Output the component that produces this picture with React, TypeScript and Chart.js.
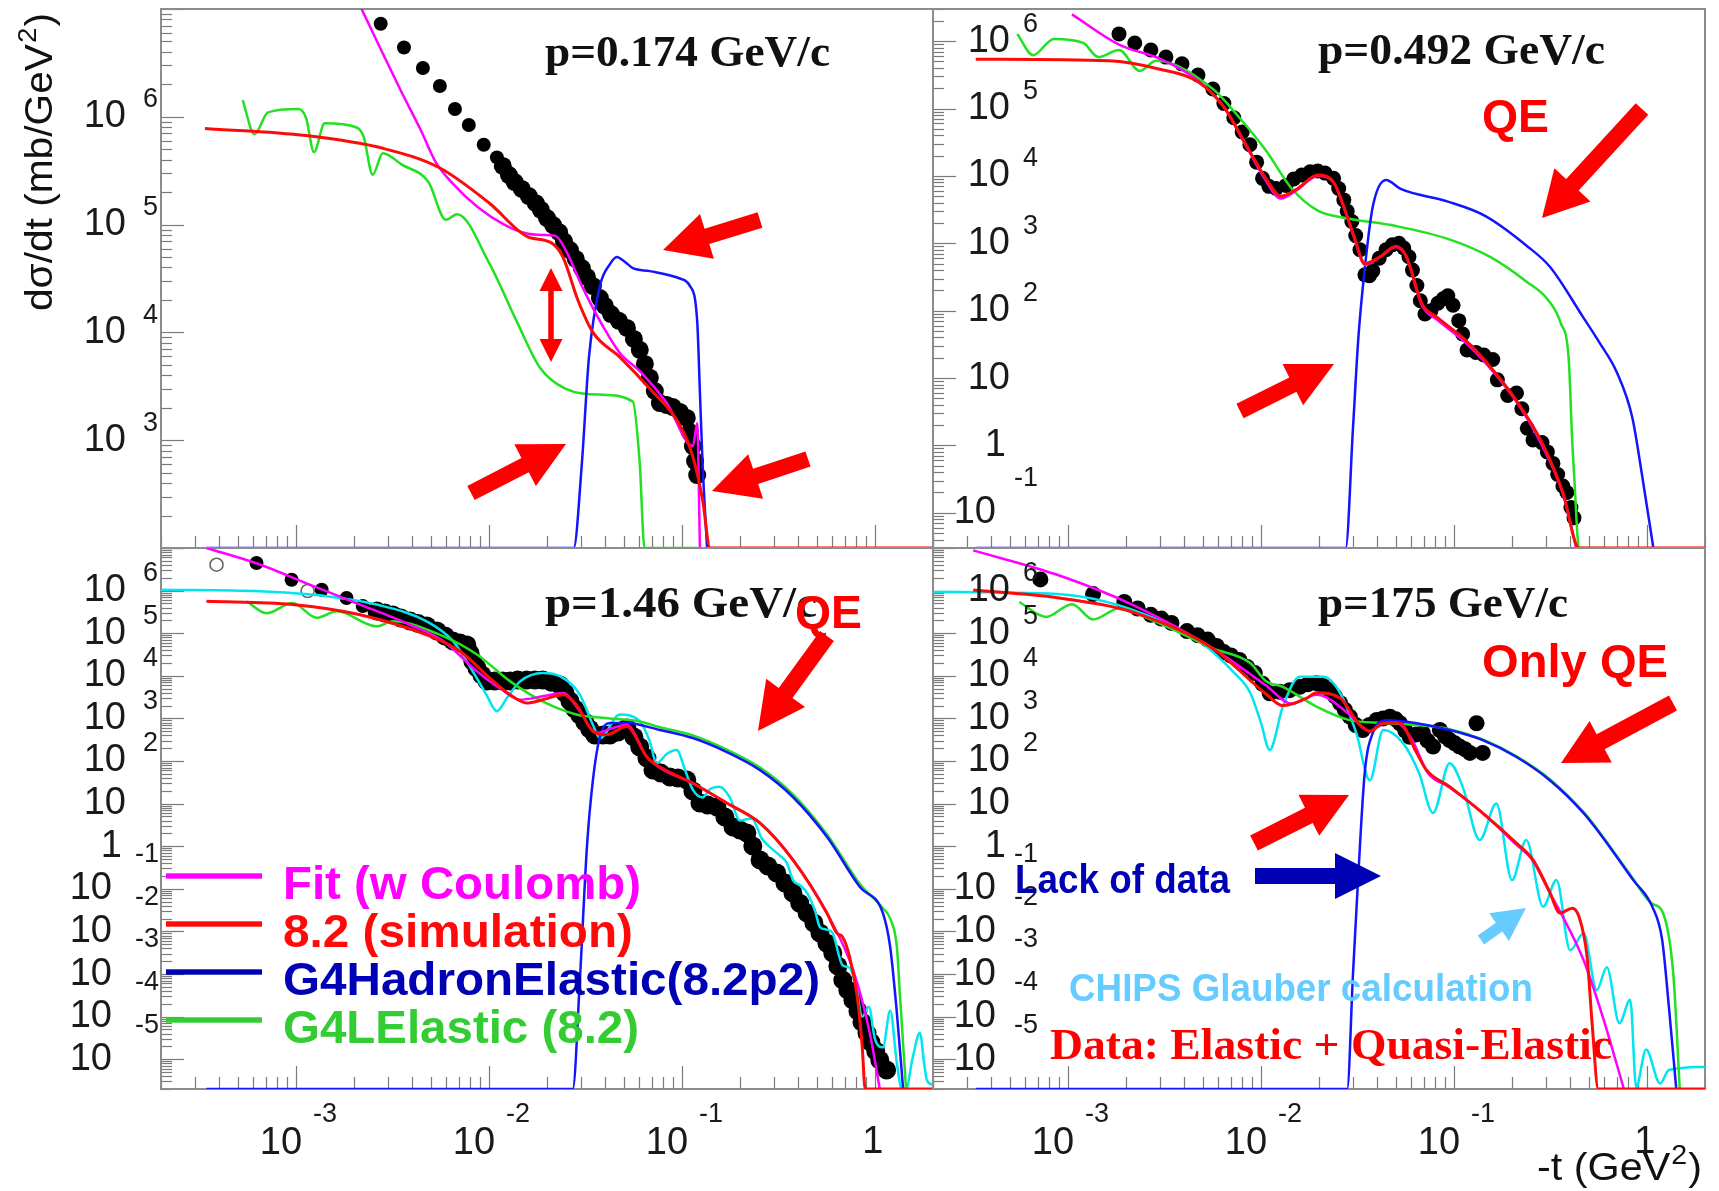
import { useEffect, useRef } from "react";
import { Chart, registerables } from "chart.js";

Chart.register(...registerables);

type Pt = [number, number];

const W = 1719;
const H = 1191;

// ---------------- axes ----------------
const X_RANGE: Pt = [2e-4, 2];
const X_LABEL_EXP = [-3, -2, -1, 0];
const TL_Y_RANGE: Pt = [1e2, 1e7];
const TR_Y_RANGE: Pt = [0.03, 3e6];
const BL_Y_RANGE: Pt = [2e-6, 1e7];
const BR_Y_RANGE: Pt = [2e-6, 1e7];
const TL_Y_LABEL_EXP = [3, 4, 5, 6];
const TR_Y_LABEL_EXP = [-1, 0, 1, 2, 3, 4, 5, 6];
const BL_Y_LABEL_EXP = [-5, -4, -3, -2, -1, 0, 1, 2, 3, 4, 5, 6];
const BR_Y_LABEL_EXP = [-5, -4, -3, -2, -1, 0, 1, 2, 3, 4, 5, 6];

// ---------------- texts ----------------
const TITLES = ["p=0.174 GeV/c", "p=0.492 GeV/c", "p=1.46 GeV/c", "p=175 GeV/c"];
const LEGEND_LABELS = ["Fit (w Coulomb)", "8.2 (simulation)", "G4HadronElastic(8.2p2)", "G4LElastic (8.2)"];
const NOTE_QE = "QE";
const NOTE_ONLY_QE = "Only QE";
const NOTE_LACK = "Lack of data";
const NOTE_CHIPS = "CHIPS Glauber calculation";
const NOTE_DATA = "Data: Elastic + Quasi-Elastic";
const Y_TITLE_MAIN = "d\u03c3/dt (mb/GeV";
const X_TITLE_MAIN = "-t (GeV";

// ---------------- p = 0.174 GeV/c ----------------
const TL_DATA: Pt[] = [
  [2.75e-3, 7.3e6], [3.63e-3, 4.4e6], [4.55e-3, 2.84e6], [5.57e-3, 1.93e6], [6.67e-3, 1.18e6],
  [7.87e-3, 8.4e5], [9.4e-3, 5.5e5], [1.1e-2, 4.2e5],
];
const TL_BAND: Pt[] = [
  [1.18e-2, 3.5e5], [1.27e-2, 2.88e5], [1.36e-2, 2.48e5], [1.48e-2, 2.14e5], [1.61e-2, 1.84e5],
  [1.75e-2, 1.58e5], [1.86e-2, 1.37e5], [2.0e-2, 1.15e5], [2.15e-2, 9.9e4], [2.31e-2, 8.5e4],
  [2.45e-2, 7.0e4], [2.63e-2, 5.8e4], [2.82e-2, 4.8e4], [3.03e-2, 3.95e4], [3.22e-2, 3.27e4],
  [3.46e-2, 2.69e4], [3.76e-2, 2.08e4], [3.99e-2, 1.76e4], [4.29e-2, 1.48e4], [4.72e-2, 1.28e4],
  [5.19e-2, 1.1e4], [5.64e-2, 8.7e3], [6.05e-2, 6.9e3], [6.43e-2, 5.1e3], [6.82e-2, 3.8e3],
  [7.24e-2, 2.86e3], [7.69e-2, 2.21e3], [8.36e-2, 2.12e3], [8.98e-2, 2.03e3], [9.77e-2, 1.83e3],
  [0.106, 1.61e3], [0.11, 1.19e3], [0.114, 883], [0.117, 641], [0.12, 475],
];
const TL_FIT: Pt[] = [
  [2.15e-3, 1.07e7], [2.82e-3, 3.86e6], [3.54e-3, 1.67e6], [4.44e-3, 7.5e5], [5.3e-3, 3.8e5],
  [6.5e-3, 2.4e5], [8.77e-3, 1.45e5], [1.2e-2, 1.0e5], [1.52e-2, 8.4e4], [1.9e-2, 8.0e4],
  [2.2e-2, 7.9e4], [2.5e-2, 5.8e4], [3.03e-2, 2.7e4], [3.76e-2, 1.28e4], [4.77e-2, 6.45e3],
  [6.05e-2, 4.37e3], [8.36e-2, 2.2e3], [0.114, 884], [0.12, 1.44e3], [0.124, 100],
];
const TL_SIM: Pt[] = [
  [3.38e-4, 7.8e5], [1.13e-3, 6.7e5], [2.82e-3, 5.1e5], [5.57e-3, 3.35e5], [1.01e-2, 1.57e5],
  [1.59e-2, 7.7e4], [2.1e-2, 6.8e4], [2.42e-2, 5.0e4], [2.89e-2, 2.0e4], [3.46e-2, 1.0e4],
  [4.77e-2, 5.9e3], [6.82e-2, 3.0e3], [9.77e-2, 1.38e3], [0.114, 700], [0.128, 280],
  [0.14, 100], [2, 100],
];
const TL_G4H: Pt[] = [
  [3.44e-4, 100], [2.3e-2, 100], [2.75e-2, 100], [3.03e-2, 600], [3.3e-2, 5.9e3], [3.76e-2, 2.7e4],
  [4.24e-2, 4.3e4], [4.6e-2, 5.0e4], [5.0e-2, 4.6e4], [5.57e-2, 3.95e4], [6.82e-2, 3.7e4],
  [9.77e-2, 3.16e4], [0.11, 2.7e4], [0.12, 1.28e4], [0.124, 2.75e3], [0.128, 600], [0.135, 100],
];
const TL_G4L: Pt[] = [
  [5.3e-4, 1.43e6], [6.1e-4, 6.9e5], [7.17e-4, 1.1e6], [1.03e-3, 1.18e6], [1.13e-3, 9.7e5],
  [1.24e-3, 4.7e5], [1.41e-3, 8.7e5], [2.05e-3, 8.0e5], [2.24e-3, 6.6e5], [2.5e-3, 2.9e5],
  [2.82e-3, 4.6e5], [3.54e-3, 3.6e5], [4.86e-3, 2.48e5], [5.98e-3, 1.11e5], [6.84e-3, 1.25e5],
  [1.01e-2, 4.3e4], [1.39e-2, 1.28e4], [1.84e-2, 4.7e3], [2.5e-2, 3.0e3], [3.76e-2, 2.65e3],
  [5.57e-2, 2.28e3], [6.05e-2, 600], [6.4e-2, 100], [0.12, 100],
];

// ---------------- p = 0.492 GeV/c ----------------
const TR_DATA: Pt[] = [
  [1.84e-3, 1.28e6], [2.22e-3, 9.4e5], [2.69e-3, 7.4e5], [3.22e-3, 5.8e5], [3.9e-3, 4.6e5],
  [4.72e-3, 3.15e5], [5.64e-3, 1.95e5], [6.43e-3, 1.19e5], [7.24e-3, 7.3e4], [8.0e-3, 4.5e4],
  [8.77e-3, 2.9e4], [9.5e-3, 1.6e4], [1.02e-2, 9.2e3], [1.1e-2, 7.0e3], [1.2e-2, 6.5e3],
  [1.35e-2, 7.2e3], [1.48e-2, 9.0e3], [1.63e-2, 1.03e4], [1.8e-2, 1.15e4], [1.97e-2, 1.18e4],
  [2.15e-2, 1.1e4], [2.38e-2, 9.2e3], [2.53e-2, 6.5e3], [2.69e-2, 4.4e3], [2.8e-2, 3.0e3],
  [2.96e-2, 2.1e3], [3.1e-2, 1.3e3], [3.26e-2, 800], [3.46e-2, 340], [3.65e-2, 330], [3.8e-2, 390],
  [4.1e-2, 600], [4.45e-2, 800], [4.8e-2, 950], [5.19e-2, 1.0e3], [5.5e-2, 850], [5.85e-2, 630],
  [6.1e-2, 400], [6.43e-2, 236], [6.7e-2, 140], [7.08e-2, 89], [7.6e-2, 100], [8.26e-2, 129],
  [8.8e-2, 150], [9.3e-2, 166], [9.9e-2, 120], [0.106, 71], [0.111, 45], [0.117, 26], [0.13, 24],
  [0.143, 22], [0.159, 18.8], [0.168, 9.4], [0.19, 5.5], [0.211, 6], [0.225, 3.5], [0.24, 1.8],
  [0.257, 1.2], [0.286, 1.1], [0.305, 0.8], [0.326, 0.54], [0.345, 0.37], [0.367, 0.25],
  [0.385, 0.2], [0.404, 0.12], [0.419, 0.084],
];
const TR_FIT: Pt[] = [
  [1.05e-3, 2.5e6], [1.84e-3, 8.9e5], [3.03e-3, 5.4e5], [4.72e-3, 2.6e5], [6.43e-3, 1.05e5],
  [8.26e-3, 3.0e4], [1.06e-2, 8.5e3], [1.27e-2, 4.6e3], [1.54e-2, 6.2e3], [1.97e-2, 1.0e4],
  [2.38e-2, 8.0e3], [2.69e-2, 3.4e3], [3.03e-2, 1.25e3], [3.46e-2, 480], [4.14e-2, 620],
  [5.0e-2, 880], [5.68e-2, 620], [6.82e-2, 120], [8.26e-2, 72], [0.113, 35], [0.145, 17],
  [0.21, 4.5], [0.286, 1.0], [0.367, 0.19], [0.43, 0.03],
];
const TR_SIM: Pt[] = [
  [3.33e-4, 5.4e5], [1.63e-3, 5.1e5], [3.03e-3, 3.8e5], [4.72e-3, 2.5e5], [6.43e-3, 1.05e5],
  [8.26e-3, 3.1e4], [1.06e-2, 9.2e3], [1.27e-2, 5.0e3], [1.54e-2, 6.4e3], [1.97e-2, 1.03e4],
  [2.38e-2, 8.1e3], [2.69e-2, 3.5e3], [3.03e-2, 1.3e3], [3.46e-2, 500], [4.14e-2, 630],
  [5.0e-2, 900], [5.68e-2, 630], [6.82e-2, 128], [8.26e-2, 78], [0.113, 38], [0.145, 18],
  [0.21, 4.7], [0.286, 1.1], [0.367, 0.2], [0.445, 0.03], [2, 0.03],
];
const TR_G4H: Pt[] = [
  [3.33e-4, 0.03], [2.22e-2, 0.03], [2.75e-2, 0.03], [3.0e-2, 1.8], [3.2e-2, 40], [3.46e-2, 445],
  [3.8e-2, 3.5e3], [4.45e-2, 8.7e3], [5.3e-2, 6.4e3], [9.3e-2, 4.15e3], [0.145, 2.55e3],
  [0.239, 912], [0.315, 445], [0.466, 81], [0.57, 33], [0.7, 12], [0.84, 2.6], [0.94, 0.39],
  [1.08, 0.03],
];
const TR_G4L: Pt[] = [
  [5.47e-4, 1.28e6], [6.6e-4, 6.2e5], [8.46e-4, 1.08e6], [1.2e-3, 9.4e5], [1.44e-3, 5.8e5],
  [1.84e-3, 7.4e5], [2.36e-3, 3.6e5], [2.86e-3, 5.1e5], [5.64e-3, 1.95e5], [7.74e-3, 7.3e4],
  [1.06e-2, 2.4e4], [1.45e-2, 6.4e3], [1.97e-2, 3.06e3], [2.69e-2, 2.4e3], [5.0e-2, 1.8e3],
  [9.3e-2, 1.16e3], [0.154, 627], [0.239, 267], [0.307, 145], [0.358, 65], [0.394, 18],
  [0.41, 1.2], [0.419, 0.4], [0.445, 0.03], [0.6, 0.03],
];

// ---------------- p = 1.46 GeV/c ----------------
const BL_DATA: Pt[] = [
  [6.25e-4, 4.45e6], [9.5e-4, 1.8e6], [1.36e-3, 1.05e6], [1.83e-3, 6.7e5], [2.22e-3, 4.35e5],
];
const BL_BAND: Pt[] = [
  [2.63e-3, 3.3e5], [2.89e-3, 2.98e5], [3.18e-3, 2.67e5], [3.5e-3, 2.27e5], [3.9e-3, 1.93e5],
  [4.29e-3, 1.69e5], [4.77e-3, 1.48e5], [5.38e-3, 1.13e5], [5.92e-3, 8.6e4], [6.5e-3, 6.6e4],
  [7.08e-3, 5.9e4], [7.69e-3, 5.3e4], [7.98e-3, 3.4e4], [8.26e-3, 2.2e4], [8.67e-3, 1.52e4],
  [9.2e-3, 1.04e4], [9.77e-3, 7.55e3], [1.07e-2, 7.55e3], [1.18e-2, 7.55e3], [1.29e-2, 7.55e3],
  [1.41e-2, 7.96e3], [1.57e-2, 7.96e3], [1.73e-2, 7.96e3], [1.9e-2, 7.96e3], [2.1e-2, 7.1e3],
  [2.33e-2, 6.1e3], [2.48e-2, 3.95e3], [2.63e-2, 2.56e3], [2.79e-2, 1.66e3], [2.96e-2, 1.2e3],
  [3.14e-2, 822], [3.33e-2, 564], [3.54e-2, 407], [3.9e-2, 407], [4.24e-2, 407], [4.66e-2, 480],
  [5.19e-2, 596], [5.64e-2, 366], [6.05e-2, 213], [6.59e-2, 117], [7.08e-2, 61.5], [7.78e-2, 52],
  [8.67e-2, 42], [9.53e-2, 40], [0.106, 35.8], [0.114, 19.8], [0.124, 10.3], [0.136, 9.3],
  [0.152, 8.3], [0.167, 4.84], [0.184, 2.82], [0.2, 2.4], [0.217, 2.04], [0.233, 1.01],
  [0.254, 0.474], [0.279, 0.343], [0.31, 0.235], [0.342, 0.137], [0.376, 0.08], [0.408, 0.046],
  [0.445, 0.027], [0.483, 0.0157], [0.519, 9.2e-3], [0.564, 5.3e-3], [0.605, 3.1e-3],
  [0.643, 1.54e-3], [0.682, 7.2e-4], [0.724, 4.2e-4], [0.769, 2.45e-4], [0.817, 1.35e-4],
  [0.857, 7.5e-5], [0.91, 4.1e-5], [0.953, 2.5e-5], [1.01, 1.56e-5], [1.06, 9.6e-6], [1.15, 5.6e-6],
];
const BL_DATA_OPEN: Pt[] = [[3.88e-4, 4.06e6], [1.15e-3, 9.8e5]];
const BL_FIT: Pt[] = [
  [3.44e-4, 1e7], [6.5e-4, 4.1e6], [1.18e-3, 1.38e6], [2.15e-3, 4.7e5], [3.9e-3, 1.58e5],
  [5.78e-3, 6.6e4], [8.63e-3, 1.3e4], [1.14e-2, 5.1e3], [1.45e-2, 2.75e3], [1.9e-2, 3.3e3],
  [2.42e-2, 3.95e3], [2.96e-2, 1.48e3], [3.6e-2, 457], [4.4e-2, 600], [5.17e-2, 707],
  [6.6e-2, 123], [7.7e-2, 69], [0.114, 30], [0.171, 10.3], [0.254, 3.5], [0.376, 0.48],
  [0.564, 0.027], [0.77, 1.26e-3], [0.94, 4.2e-5], [1.06, 2e-6],
];
const BL_SIM: Pt[] = [
  [3.44e-4, 5.6e5], [9.6e-4, 4.7e5], [2.15e-3, 2.7e5], [4.76e-3, 9.1e4], [7.08e-3, 3.76e4],
  [1.05e-2, 7.6e3], [1.29e-2, 3.6e3], [1.57e-2, 2.3e3], [1.9e-2, 2.75e3], [2.42e-2, 3.6e3],
  [2.84e-2, 2.1e3], [3.46e-2, 500], [4.07e-2, 415], [5.17e-2, 645], [6.6e-2, 123], [7.7e-2, 72],
  [0.114, 30], [0.171, 10.3], [0.254, 3.5], [0.376, 0.48], [0.564, 0.027], [0.635, 9.1e-3],
  [0.68, 7.4e-3], [0.74, 2.5e-3], [0.81, 2.9e-4], [0.86, 1.9e-5], [0.89, 2e-6], [2, 2e-6],
];
const BL_CHIPS: Pt[] = [
  [2e-4, 1.05e6], [6.5e-4, 9.6e5], [1.44e-3, 7.4e5], [2.62e-3, 4.7e5], [4.76e-3, 1.9e5],
  [6.5e-3, 6.6e4], [8.26e-3, 1.26e4], [9.7e-3, 3.6e3], [1.1e-2, 1.48e3], [1.24e-2, 3.0e3],
  [1.45e-2, 7.4e3], [1.9e-2, 1.17e4], [2.33e-2, 9.8e3], [2.96e-2, 3.6e3], [3.46e-2, 700],
  [3.76e-2, 346], [4.77e-2, 1.23e3], [6.05e-2, 850], [6.8e-2, 300], [7.4e-2, 89], [8.4e-2, 150],
  [9.4e-2, 182], [0.104, 60], [0.114, 21], [0.128, 14], [0.14, 22], [0.157, 25], [0.177, 14],
  [0.2, 4], [0.23, 4.5], [0.26, 1.5], [0.286, 0.95], [0.322, 0.6], [0.35, 0.4], [0.376, 0.16],
  [0.41, 0.12], [0.445, 0.08], [0.49, 0.03], [0.519, 0.0126], [0.564, 0.011], [0.605, 9e-3],
  [0.68, 1.6e-3], [0.74, 1.4e-3], [0.8, 5e-4], [0.86, 1e-4], [0.93, 1.7e-4], [1.0, 3e-5],
  [1.1, 1.9e-5], [1.2, 1.4e-4], [1.3, 8e-6], [1.38, 2e-6], [1.45, 2e-6], [1.57, 1.1e-5],
  [1.71, 4.2e-5], [1.8, 8e-6], [1.86, 3.2e-6], [2, 2.5e-6],
];
const BL_G4H: Pt[] = [
  [3.44e-4, 2e-6], [2.3e-2, 2e-6], [2.72e-2, 2e-6], [2.96e-2, 7.2e-4], [3.22e-2, 0.95],
  [3.46e-2, 36], [3.76e-2, 366], [4.24e-2, 780], [5.17e-2, 780], [7.7e-2, 535], [0.114, 346],
  [0.171, 162], [0.254, 61], [0.376, 14.3], [0.564, 1.66], [0.836, 0.11], [1.1, 0.027],
  [1.2, 4.3e-3], [1.3, 1.2e-4], [1.4, 2e-6],
];
const BL_G4L: Pt[] = [
  [5.56e-4, 5.6e5], [7.05e-4, 2.95e5], [9.6e-4, 5.1e5], [1.28e-3, 2.3e5], [1.63e-3, 3.26e5],
  [2.62e-3, 1.45e5], [3.18e-3, 1.9e5], [5.78e-3, 8.5e4], [8.63e-3, 3.2e4], [1.29e-2, 7.4e3],
  [1.9e-2, 2.5e3], [2.84e-2, 1.23e3], [4.24e-2, 1e3], [6.05e-2, 850], [7.7e-2, 620],
  [0.114, 400], [0.171, 185], [0.254, 70], [0.376, 16.5], [0.564, 1.9], [0.836, 0.13],
  [1.1, 0.035], [1.2, 0.02], [1.3, 4.3e-3], [1.35, 2.9e-4], [1.45, 2e-6],
];

// ---------------- p = 175 GeV/c ----------------
const BR_DATA: Pt[] = [
  [7.2e-4, 1.83e6], [1.35e-3, 8.3e5], [1.96e-3, 5.4e5], [2.3e-3, 3.8e5], [2.69e-3, 2.7e5],
  [3.05e-3, 2.2e5], [3.44e-3, 1.74e5], [4.14e-3, 1.12e5], [4.7e-3, 9.0e4], [5.3e-3, 7.1e4],
  [5.9e-3, 5.0e4], [6.43e-3, 3.6e4], [7.0e-3, 3.0e4], [7.74e-3, 2.36e4], [8.5e-3, 1.6e4],
  [9.3e-3, 1.16e4], [1.02e-2, 6.5e3], [1.11e-2, 3.9e3], [1.25e-2, 4.2e3], [1.41e-2, 4.6e3],
  [1.59e-2, 5.5e3], [1.75e-2, 6.3e3], [1.94e-2, 6.7e3], [2.1e-2, 5.8e3], [2.28e-2, 4.6e3],
  [2.42e-2, 3.3e3], [2.57e-2, 2.3e3], [2.72e-2, 1.6e3], [2.89e-2, 1.1e3], [3.1e-2, 700],
  [3.37e-2, 535], [3.65e-2, 700], [3.98e-2, 920], [4.3e-2, 1.0e3], [4.66e-2, 1.1e3],
  [5.0e-2, 950], [5.25e-2, 770], [5.6e-2, 520], [5.9e-2, 370], [6.4e-2, 420], [6.9e-2, 455],
  [7.3e-2, 300], [7.8e-2, 218], [8.46e-2, 535], [9.0e-2, 380], [9.5e-2, 310], [0.101, 260],
  [0.107, 218], [0.114, 190], [0.121, 155], [0.131, 770], [0.141, 155],
];
const BR_FIT: Pt[] = [
  [3.23e-4, 8.8e6], [8.8e-4, 2.35e6], [2.22e-3, 4.4e5], [5.64e-3, 4.4e4], [1.06e-2, 6e3],
  [1.45e-2, 2.2e3], [1.94e-2, 3.6e3], [2.22e-2, 3.0e3], [2.86e-2, 1.26e3], [3.67e-2, 500],
  [4.3e-2, 760], [5.0e-2, 800], [6.05e-2, 324], [7.3e-2, 54], [9.5e-2, 24], [0.141, 6],
  [0.21, 1.1], [0.257, 0.45], [0.31, 0.09], [0.367, 0.022], [0.47, 2.1e-3], [0.59, 1e-4],
  [0.76, 2e-6],
];
const BR_SIM: Pt[] = [
  [3.23e-4, 1.03e6], [8.8e-4, 6.8e5], [2.22e-3, 3.0e5], [5.64e-3, 4.4e4], [1.06e-2, 3.8e3],
  [1.3e-2, 2.0e3], [1.73e-2, 3.0e3], [1.94e-2, 4.0e3], [2.57e-2, 3.0e3], [3.2e-2, 780],
  [3.67e-2, 500], [4.3e-2, 780], [5.25e-2, 780], [6.3e-2, 182], [7.2e-2, 62], [9.5e-2, 25],
  [0.141, 6], [0.21, 1.2], [0.257, 0.48], [0.31, 0.094], [0.355, 0.027], [0.41, 0.035],
  [0.445, 0.022], [0.49, 2.5e-3], [0.52, 7e-5], [0.56, 2e-6], [0.6, 2e-6], [2, 2e-6],
];
const BR_CHIPS: Pt[] = [
  [2e-4, 9.3e5], [8.8e-4, 8.3e5], [2.22e-3, 3.4e5], [5.0e-3, 5.6e4], [7.24e-3, 1.2e4],
  [8.8e-3, 4e3], [1.0e-2, 800], [1.11e-2, 182], [1.3e-2, 1.9e3], [1.59e-2, 9.5e3],
  [2.1e-2, 9.5e3], [2.57e-2, 4e3], [3.12e-2, 455], [3.67e-2, 35], [4.3e-2, 535], [5.45e-2, 263],
  [6.6e-2, 52], [7.8e-2, 6], [9.5e-2, 89], [0.111, 25], [0.136, 1.4], [0.166, 10], [0.2, 0.16],
  [0.237, 1.4], [0.29, 0.038], [0.34, 0.16], [0.4, 3.6e-3], [0.47, 9e-3], [0.55, 4.2e-4],
  [0.62, 1.45e-3], [0.72, 7e-5], [0.82, 2.5e-4], [0.88, 2.2e-6], [0.99, 1.7e-5], [1.17, 2.7e-6],
  [1.3, 5.6e-6], [2, 6.6e-6],
];
const BR_G4H: Pt[] = [
  [3.33e-4, 2e-6], [2.2e-2, 2e-6], [2.8e-2, 2e-6], [3.0e-2, 1e-3], [3.2e-2, 0.23], [3.45e-2, 52],
  [3.8e-2, 455], [4.5e-2, 910], [6.3e-2, 780], [9.5e-2, 535], [0.141, 310], [0.21, 126],
  [0.315, 35], [0.47, 6], [0.57, 2.0], [0.85, 0.16], [1.07, 0.037], [1.2, 6.3e-3], [1.3, 1.7e-4],
  [1.42, 2e-6],
];
const BR_G4L: Pt[] = [
  [5.6e-4, 5.4e5], [7.7e-4, 2.4e5], [1.05e-3, 4.8e5], [1.35e-3, 2.1e5], [1.84e-3, 3.8e5],
  [2.69e-3, 2.1e5], [5.64e-3, 4.4e4], [8.8e-3, 2.0e4], [1.06e-2, 7.6e3], [1.3e-2, 5.5e3],
  [1.94e-2, 1.9e3], [2.89e-2, 910], [4.3e-2, 780], [6.3e-2, 700], [9.5e-2, 560], [0.141, 320],
  [0.21, 130], [0.315, 37], [0.47, 6.3], [0.57, 2.1], [0.85, 0.17], [1.06, 0.045], [1.2, 0.03],
  [1.37, 1e-3], [1.48, 2e-6],
];

// ---------------- styles ----------------
const C_FIT = "#ff00ff";
const C_SIM = "#ff0a0a";
const C_HAD = "#1414ff";
const C_LEL = "#22e022";
const C_CHIPS = "#00e5f0";
const C_ARROW = "#ff0000";
const C_DARKBLUE = "#0000b4";
const C_LIGHTBLUE = "#66ccff";
const C_LEG_GREEN = "#33cc33";
const FONT_SANS = '"Liberation Sans", Arial, sans-serif';
const FONT_SERIF = '"Liberation Serif", "Times New Roman", serif';

interface PanelDef {
  id: string;
  area: [number, number, number, number];
  yRange: Pt;
  yLabels: number[];
  yBaseRight: number;
  yGap: number;
  yExpRight: number;
  xLabels: boolean;
  fit: Pt[];
  sim: Pt[];
  had: Pt[];
  lel: Pt[];
  chips?: Pt[];
  data: Pt[];
  dataR: number;
  band?: Pt[];
  bandR?: number;
  open?: Pt[];
  title: string;
  titleBox: [number, number, number];
  extra: (ctx: CanvasRenderingContext2D) => void;
}

function fitText(ctx: CanvasRenderingContext2D, text: string, x: number, y: number, width: number, font: string, color: string) {
  ctx.save();
  ctx.font = font;
  ctx.fillStyle = color;
  ctx.textAlign = "left";
  ctx.textBaseline = "alphabetic";
  const w = ctx.measureText(text).width;
  ctx.translate(x, y);
  ctx.scale(width / w, 1);
  ctx.fillText(text, 0, 0);
  ctx.restore();
}

function richTitle(ctx: CanvasRenderingContext2D, main: string, sup: string, tail: string, width: number, size: number) {
  const f1 = `${size}px ${FONT_SANS}`;
  const f2 = `${Math.round(size * 0.68)}px ${FONT_SANS}`;
  ctx.font = f1;
  const w1 = ctx.measureText(main).width;
  const w3 = ctx.measureText(tail).width;
  ctx.font = f2;
  const w2 = ctx.measureText(sup).width;
  const s = width / (w1 + w2 + w3 + 2);
  ctx.scale(s, 1);
  ctx.fillStyle = "#111";
  ctx.textBaseline = "alphabetic";
  ctx.textAlign = "left";
  ctx.font = f1;
  ctx.fillText(main, 0, 0);
  ctx.font = f2;
  ctx.fillText(sup, w1 + 1, -size * 0.42);
  ctx.font = f1;
  ctx.fillText(tail, w1 + w2 + 2, 0);
}

function arrow(ctx: CanvasRenderingContext2D, tx: number, ty: number, hx: number, hy: number, shaft: number, headW: number, headL: number, color: string) {
  const dx = hx - tx;
  const dy = hy - ty;
  const len = Math.hypot(dx, dy);
  const ux = dx / len;
  const uy = dy / len;
  const nx = -uy;
  const ny = ux;
  const bx = hx - ux * headL;
  const by = hy - uy * headL;
  ctx.beginPath();
  ctx.moveTo(tx + (nx * shaft) / 2, ty + (ny * shaft) / 2);
  ctx.lineTo(bx + (nx * shaft) / 2, by + (ny * shaft) / 2);
  ctx.lineTo(bx + (nx * headW) / 2, by + (ny * headW) / 2);
  ctx.lineTo(hx, hy);
  ctx.lineTo(bx - (nx * headW) / 2, by - (ny * headW) / 2);
  ctx.lineTo(bx - (nx * shaft) / 2, by - (ny * shaft) / 2);
  ctx.lineTo(tx - (nx * shaft) / 2, ty - (ny * shaft) / 2);
  ctx.closePath();
  ctx.fillStyle = color;
  ctx.fill();
}

function doubleArrowV(ctx: CanvasRenderingContext2D, x: number, y1: number, y2: number, shaft: number, headW: number, headL: number, color: string) {
  ctx.fillStyle = color;
  ctx.fillRect(x - shaft / 2, y1 + headL - 1, shaft, y2 - y1 - 2 * headL + 2);
  ctx.beginPath();
  ctx.moveTo(x, y1);
  ctx.lineTo(x + headW / 2, y1 + headL);
  ctx.lineTo(x - headW / 2, y1 + headL);
  ctx.closePath();
  ctx.fill();
  ctx.beginPath();
  ctx.moveTo(x, y2);
  ctx.lineTo(x + headW / 2, y2 - headL);
  ctx.lineTo(x - headW / 2, y2 - headL);
  ctx.closePath();
  ctx.fill();
}

const TITLE_FONT = `bold 45px ${FONT_SERIF}`;
const NOTE_FONT = `bold 46px ${FONT_SANS}`;

const PANELS: PanelDef[] = [
  {
    id: "tl", area: [161, 9, 933, 548], yRange: TL_Y_RANGE, yLabels: TL_Y_LABEL_EXP,
    yBaseRight: 126, yGap: 17, yExpRight: 159, xLabels: false,
    fit: TL_FIT, sim: TL_SIM, had: TL_G4H, lel: TL_G4L, data: TL_DATA, dataR: 7, band: TL_BAND, bandR: 9,
    title: TITLES[0], titleBox: [545, 66, 285],
    extra: (ctx) => {
      arrow(ctx, 760, 220, 663, 250, 16, 47, 46, C_ARROW);
      arrow(ctx, 808, 459, 712, 491, 16, 47, 46, C_ARROW);
      arrow(ctx, 471, 493, 566, 444, 16, 47, 46, C_ARROW);
      doubleArrowV(ctx, 551, 268, 362, 5.5, 23, 23, C_ARROW);
      ctx.save();
      ctx.translate(52, 311);
      ctx.rotate(-Math.PI / 2);
      richTitle(ctx, Y_TITLE_MAIN, "2", ")", 298, 38);
      ctx.restore();
    },
  },
  {
    id: "tr", area: [933, 9, 1705, 548], yRange: TR_Y_RANGE, yLabels: TR_Y_LABEL_EXP,
    yBaseRight: 1010, yGap: 13, yExpRight: 1038, xLabels: false,
    fit: TR_FIT, sim: TR_SIM, had: TR_G4H, lel: TR_G4L, data: TR_DATA, dataR: 7.5,
    title: TITLES[1], titleBox: [1318, 64, 287],
    extra: (ctx) => {
      fitText(ctx, NOTE_QE, 1482, 132, 67, NOTE_FONT, C_ARROW);
      arrow(ctx, 1642, 109, 1542, 218, 17, 49, 45, C_ARROW);
      arrow(ctx, 1240, 411, 1334, 364, 16, 46, 46, C_ARROW);
    },
  },
  {
    id: "bl", area: [161, 548, 933, 1089], yRange: BL_Y_RANGE, yLabels: BL_Y_LABEL_EXP,
    yBaseRight: 126, yGap: 17, yExpRight: 159, xLabels: true,
    fit: BL_FIT, sim: BL_SIM, had: BL_G4H, lel: BL_G4L, chips: BL_CHIPS, data: BL_DATA, dataR: 7,
    band: BL_BAND, bandR: 9.5, open: BL_DATA_OPEN,
    title: TITLES[2], titleBox: [545, 617, 272],
    extra: (ctx) => {
      fitText(ctx, NOTE_QE, 795, 628, 67, NOTE_FONT, C_ARROW);
      arrow(ctx, 827, 636, 758, 731, 17, 48, 47, C_ARROW);
      const legColors = [C_FIT, C_SIM, C_DARKBLUE, C_LEG_GREEN];
      const lineY = [876, 924, 972, 1020];
      const base = [899, 947, 995, 1043];
      const widths = [358, 350, 537, 356];
      for (let i = 0; i < 4; i++) {
        ctx.fillStyle = legColors[i];
        ctx.fillRect(166, lineY[i] - 2.7, 96, 5.4);
        fitText(ctx, LEGEND_LABELS[i], 283, base[i], widths[i], `bold 46px ${FONT_SANS}`, legColors[i]);
      }
    },
  },
  {
    id: "br", area: [933, 548, 1705, 1089], yRange: BR_Y_RANGE, yLabels: BR_Y_LABEL_EXP,
    yBaseRight: 1010, yGap: 13, yExpRight: 1038, xLabels: true,
    fit: BR_FIT, sim: BR_SIM, had: BR_G4H, lel: BR_G4L, chips: BR_CHIPS, data: BR_DATA, dataR: 8,
    title: TITLES[3], titleBox: [1318, 617, 250],
    extra: (ctx) => {
      fitText(ctx, NOTE_ONLY_QE, 1482, 677, 186, NOTE_FONT, C_ARROW);
      arrow(ctx, 1673, 703, 1561, 763, 17, 47, 45, C_ARROW);
      arrow(ctx, 1254, 843, 1349, 795, 17, 46, 45, C_ARROW);
      arrow(ctx, 1255, 876, 1381, 876, 16, 46, 46, C_DARKBLUE);
      arrow(ctx, 1481, 940, 1526, 908, 11, 34, 33, C_LIGHTBLUE);
      fitText(ctx, NOTE_LACK, 1015, 893, 215, `bold 40px ${FONT_SANS}`, C_DARKBLUE);
      fitText(ctx, NOTE_CHIPS, 1069, 1001, 464, `bold 38px ${FONT_SANS}`, C_LIGHTBLUE);
      fitText(ctx, NOTE_DATA, 1050, 1059, 562, `bold 44px ${FONT_SERIF}`, C_ARROW);
      ctx.save();
      ctx.translate(1537, 1180);
      richTitle(ctx, X_TITLE_MAIN, "2", ")", 165, 39);
      ctx.restore();
    },
  },
];

function drawFrameAndTicks(chart: any, def: PanelDef) {
  const ctx: CanvasRenderingContext2D = chart.ctx;
  const a = chart.chartArea;
  const xs = chart.scales.x;
  const ys = chart.scales.y;
  ctx.save();
  ctx.strokeStyle = "#7a7a7a";
  ctx.lineWidth = 1.2;
  const [ymin, ymax] = def.yRange;
  for (let e = Math.floor(Math.log10(ymin)); e <= Math.ceil(Math.log10(ymax)); e++) {
    for (let m = 1; m <= 9; m++) {
      const v = m * Math.pow(10, e);
      if (v < ymin * 0.999 || v > ymax * 1.001) continue;
      const py = Math.round(ys.getPixelForValue(v)) + 0.5;
      const len = m === 1 ? 23 : 11;
      ctx.beginPath();
      ctx.moveTo(a.left, py);
      ctx.lineTo(a.left + len, py);
      ctx.stroke();
    }
  }
  for (let e = -4; e <= 0; e++) {
    for (let m = 1; m <= 9; m++) {
      const v = m * Math.pow(10, e);
      if (v < X_RANGE[0] * 0.999 || v > X_RANGE[1] * 1.001) continue;
      const px = Math.round(xs.getPixelForValue(v)) + 0.5;
      const len = m === 1 ? 23 : 12;
      ctx.beginPath();
      ctx.moveTo(px, a.bottom);
      ctx.lineTo(px, a.bottom - len);
      ctx.stroke();
    }
  }
  ctx.strokeStyle = "#8c8c8c";
  ctx.lineWidth = 2;
  ctx.strokeRect(a.left, a.top, a.right - a.left, a.bottom - a.top);
  ctx.restore();
}

function drawLabels(chart: any, def: PanelDef) {
  const ctx: CanvasRenderingContext2D = chart.ctx;
  const xs = chart.scales.x;
  const ys = chart.scales.y;
  ctx.save();
  const BASE = `38px ${FONT_SANS}`;
  const EXP = `27px ${FONT_SANS}`;
  ctx.fillStyle = "#1a1a1a";
  ctx.textBaseline = "middle";
  for (const e of def.yLabels) {
    const py = ys.getPixelForValue(Math.pow(10, e));
    if (e === 0) {
      ctx.font = BASE; ctx.textAlign = "right";
      ctx.fillText("1", def.yBaseRight - 4, py);
    } else if (e === 1) {
      ctx.font = BASE; ctx.textAlign = "right";
      ctx.fillText("10", def.yBaseRight, py);
    } else if (e > 1) {
      ctx.font = BASE; ctx.textAlign = "right";
      ctx.fillText("10", def.yBaseRight, py);
      ctx.font = EXP; ctx.textAlign = "left";
      ctx.fillText(String(e), def.yBaseRight + def.yGap, py - 17);
    } else {
      ctx.font = BASE; ctx.textAlign = "right";
      ctx.fillText("10", def.yBaseRight - 14, py);
      ctx.font = EXP; ctx.textAlign = "right";
      ctx.fillText("-" + String(-e), def.yExpRight, py - 34);
    }
  }
  if (def.xLabels) {
    for (const e of X_LABEL_EXP) {
      const px = xs.getPixelForValue(Math.pow(10, e));
      if (e === 0) {
        ctx.font = BASE; ctx.textAlign = "center";
        ctx.fillText("1", px - 2, 1143);
      } else {
        ctx.font = BASE; ctx.textAlign = "center";
        ctx.fillText("10", px - 15, 1144);
        ctx.font = EXP; ctx.textAlign = "left";
        ctx.fillText("-" + String(-e), px + 17, 1115);
      }
    }
  }
  ctx.restore();
}

function makePlugin(def: PanelDef) {
  return {
    id: "panel_" + def.id,
    beforeDatasetsDraw(chart: any) {
      drawFrameAndTicks(chart, def);
    },
    afterDraw(chart: any) {
      const ctx: CanvasRenderingContext2D = chart.ctx;
      drawLabels(chart, def);
      ctx.save();
      fitText(ctx, def.title, def.titleBox[0], def.titleBox[1], def.titleBox[2], TITLE_FONT, "#111");
      def.extra(ctx);
      ctx.restore();
    },
  };
}

const toXY = (d: Pt[]) => d.map(([x, y]) => ({ x, y }));

function lineSet(d: Pt[], color: string, width: number) {
  return {
    data: toXY(d),
    showLine: true,
    borderColor: color,
    backgroundColor: color,
    borderWidth: width,
    pointRadius: 0,
    pointHoverRadius: 0,
    fill: false,
    cubicInterpolationMode: "monotone",
  };
}

function dotSet(d: Pt[], r: number) {
  return {
    data: toXY(d),
    showLine: false,
    pointRadius: r,
    pointHoverRadius: 0,
    pointBackgroundColor: "#000",
    pointBorderColor: "#000",
    pointBorderWidth: 0,
  };
}

function buildDatasets(def: PanelDef) {
  const sets: any[] = [
    lineSet(def.sim, C_SIM, 3),
    lineSet(def.fit, C_FIT, 2.5),
    lineSet(def.had, C_HAD, 2.5),
    lineSet(def.lel, C_LEL, 2.5),
  ];
  if (def.chips) sets.push(lineSet(def.chips, C_CHIPS, 2.5));
  sets.push(dotSet(def.data, def.dataR));
  if (def.band) sets.push(dotSet(def.band, def.bandR || def.dataR));
  if (def.open) {
    sets.push({
      data: toXY(def.open),
      showLine: false,
      pointRadius: 6.5,
      pointHoverRadius: 0,
      pointBackgroundColor: "rgba(255,255,255,0)",
      pointBorderColor: "#666",
      pointBorderWidth: 1.6,
    });
  }
  return sets;
}

function PanelChart({ def }: { def: PanelDef }) {
  const ref = useRef<HTMLCanvasElement | null>(null);
  useEffect(() => {
    const canvas = ref.current;
    if (!canvas) return;
    const [l, t, r, b] = def.area;
    const chart = new Chart(canvas, {
      type: "scatter",
      data: { datasets: buildDatasets(def) },
      options: {
        animation: false,
        responsive: false,
        devicePixelRatio: 1,
        events: [],
        layout: { padding: { left: l, top: t, right: W - r, bottom: H - b } },
        scales: {
          x: { type: "logarithmic", min: X_RANGE[0], max: X_RANGE[1], display: false },
          y: { type: "logarithmic", min: def.yRange[0], max: def.yRange[1], display: false },
        },
        plugins: { legend: { display: false }, tooltip: { enabled: false } },
      } as any,
      plugins: [makePlugin(def)],
    });
    return () => chart.destroy();
  }, [def]);
  return (
    <canvas
      ref={ref}
      width={W}
      height={H}
      style={{ position: "absolute", left: 0, top: 0, width: W, height: H }}
    />
  );
}

export default function App() {
  return (
    <div style={{ position: "absolute", left: 0, top: 0, width: W, height: H, background: "#fff", overflow: "hidden" }}>
      {PANELS.map((p) => (
        <PanelChart key={p.id} def={p} />
      ))}
    </div>
  );
}
